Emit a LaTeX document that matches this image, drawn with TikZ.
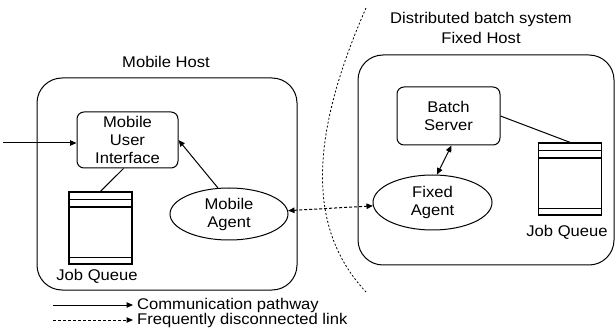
\documentclass[tikz,border=0pt]{standalone}
\usepackage{fontspec}
\setmainfont[FakeStretch=1.07]{Liberation Sans}
\usetikzlibrary{arrows.meta,shapes.geometric}

\begin{document}
\begin{tikzpicture}[x=1pt,y=-1pt,
		every node/.style={font=\fontsize{15.5}{18}\selectfont},
		host/.style={draw, rounded corners=25pt, line width=1pt},
		proc/.style={draw, rounded corners=7pt, line width=1pt, align=center, inner sep=0pt},
		agent/.style={draw, ellipse, line width=1pt, align=center, inner sep=0pt},
		queue/.style={draw, line width=1.3pt, inner sep=0pt, minimum width=63pt, minimum height=72pt,
			path picture={
				\draw[line width=0.9pt] ([yshift=-7pt]path picture bounding box.north west) -- ([yshift=-7pt]path picture bounding box.north east);
				\draw[line width=1.3pt] ([yshift=-15pt]path picture bounding box.north west) -- ([yshift=-15pt]path picture bounding box.north east);
				\draw[line width=0.9pt] ([yshift=7pt]path picture bounding box.south west) -- ([yshift=7pt]path picture bounding box.south east);
			}},
		link/.style={-{Triangle[length=6.5pt,width=5.5pt]}, line width=1pt},
		flaky/.style={link, dash pattern=on 3pt off 2pt}]
		
		\useasboundingbox (0,0) rectangle (616,331);
		
		\node[host, minimum width=260pt, minimum height=212pt] (MobileHost) at (167,184) {};
		\node[host, minimum width=256pt, minimum height=210pt] (FixedHost) at (486,160) {};
		\node (MobileHostLabel) at (166,62) {Mobile Host};
		\node[align=center, font=\fontsize{15.5}{20}\selectfont] (FixedHostLabel) at (481,28) {Distributed batch system\\Fixed Host};
		
		\node[proc, minimum width=101pt, minimum height=56pt] (MUI) at (127.5,140) {Mobile\\User\\Interface};
		\node[agent, minimum width=118pt, minimum height=52pt] (MobileAgent) at (229,214) {Mobile\\Agent};
		\node[queue] (QueueL) at (100.5,228) {};
		\node (QueueLLabel) at (97,276) {Job Queue};
		
		\node[proc, minimum width=103pt, minimum height=58pt] (BatchServer) at (448.5,116) {Batch\\Server};
		\node[agent, minimum width=119pt, minimum height=55pt] (FixedAgent) at (432.5,202.5) {Fixed\\Agent};
		\node[queue] (QueueR) at (570,179) {};
		\node (QueueRLabel) at (567,232) {Job Queue};
		
		\coordinate (UserIn) at (3,143);
		\draw[link] (UserIn) -- (UserIn -| MUI.west);
		\draw[line width=1pt] ([xshift=-4pt]MUI.south) -- (QueueL.north);
		\draw[link] (MobileAgent.113) -- (MUI.east);
		\draw[line width=1pt] (BatchServer.east) -- (QueueR.north);
		\draw[link, {Triangle[length=6.5pt,width=5.5pt]}-{Triangle[length=6.5pt,width=5.5pt]}] (FixedAgent.81) -- ([xshift=3pt]BatchServer.south);
		\draw[flaky, {Triangle[length=6.5pt,width=5.5pt]}-{Triangle[length=6.5pt,width=5.5pt]}] (MobileAgent) -- (FixedAgent);
		
		\draw[line width=0.8pt, dash pattern=on 2pt off 2pt] (366,8) .. controls (308,140) and (308,230) .. (366,292);
		
		\coordinate (LegSolidA) at (53,305);
		\coordinate (LegSolidB) at (133,305);
		\coordinate (LegDashA) at (53,320);
		\coordinate (LegDashB) at (133,320);
		\draw[link] (LegSolidA) -- (LegSolidB);
		\draw[flaky] (LegDashA) -- (LegDashB);
		\node[anchor=west, inner sep=0pt] (LegSolidText) at (137,305) {Communication pathway};
		\node[anchor=west, inner sep=0pt] (LegDashText) at (137,320) {Frequently disconnected link};
		
	\end{tikzpicture}
\end{document}
